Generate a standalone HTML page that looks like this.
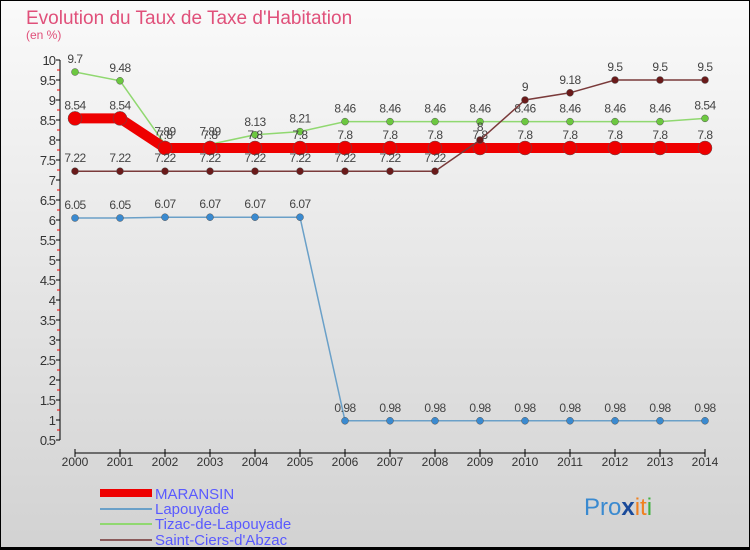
<!DOCTYPE html>
<html><head><meta charset="utf-8"><style>
body{margin:0}
#c{width:750px;height:550px;position:relative;overflow:hidden;background:linear-gradient(#fafafa,#d2d2d2);font-family:"Liberation Sans",sans-serif}
</style></head><body>
<div id="c">
<svg id="s" width="750" height="550" style="position:absolute;left:0;top:0" font-family="Liberation Sans, sans-serif">
<rect x="0.5" y="0.5" width="749" height="547" fill="none" stroke="#000"/>
<rect x="0" y="547" width="750" height="3" fill="#000"/>
<text x="26" y="24" font-size="19" fill="#e0507a">Evolution du Taux de Taxe d'Habitation</text>
<text x="26" y="39" font-size="12" fill="#e0507a">(en %)</text>
<g id="ax"></g><g id="marks"></g>
<g>
<rect x="100" y="489" width="52" height="8" fill="#e00"/>
<line x1="100" y1="509" x2="152" y2="509" stroke="#6aa0c8" stroke-width="2"/>
<line x1="100" y1="524" x2="152" y2="524" stroke="#90d870" stroke-width="2"/>
<line x1="100" y1="540" x2="152" y2="540" stroke="#8a5a5a" stroke-width="2"/>
<g font-size="15" fill="#5a5aff">
<text x="155" y="499">MARANSIN</text>
<text x="155" y="514">Lapouyade</text>
<text x="155" y="529">Tizac-de-Lapouyade</text>
<text x="155" y="545">Saint-Ciers-d'Abzac</text>
</g></g>
<text x="584" y="515" font-size="24"><tspan fill="#3a8ad0">Pro</tspan><tspan fill="#1a4a9a" font-weight="bold">x</tspan><tspan fill="#f08020">it</tspan><tspan fill="#40b040">i</tspan></text>
</svg>
</div>
<script>
const years=[2000,2001,2002,2003,2004,2005,2006,2007,2008,2009,2010,2011,2012,2013,2014];
const maransin=[8.54,8.54,7.8,7.8,7.8,7.8,7.8,7.8,7.8,7.8,7.8,7.8,7.8,7.8,7.8];
const lapouyade=[6.05,6.05,6.07,6.07,6.07,6.07,0.98,0.98,0.98,0.98,0.98,0.98,0.98,0.98,0.98];
const tizac=[9.7,9.48,7.89,7.89,8.13,8.21,8.46,8.46,8.46,8.46,8.46,8.46,8.46,8.46,8.54];
const saintCiers=[7.22,7.22,7.22,7.22,7.22,7.22,7.22,7.22,7.22,8,9,9.18,9.5,9.5,9.5];
const yTicks=[0.5,1,1.5,2,2.5,3,3.5,4,4.5,5,5.5,6,6.5,7,7.5,8,8.5,9,9.5,10];
const X=y=>75+(y-2000)*45, Y=v=>440-(v-0.5)*40;
const NS="http://www.w3.org/2000/svg";
function mk(t,a,p){const e=document.createElementNS(NS,t);for(const k in a)e.setAttribute(k,a[k]);p.appendChild(e);return e;}
const ax=document.getElementById('ax');


mk('line',{x1:60,y1:Y(10),x2:60,y2:Y(0.5),stroke:'#000'},ax);
mk('line',{x1:75,y1:453,x2:705,y2:453,stroke:'#000'},ax);
yTicks.forEach(v=>{mk('line',{x1:56,y1:Y(v),x2:60,y2:Y(v),stroke:'#000'},ax);
 if(v>0.5) mk('line',{x1:57,y1:Y(v)+10,x2:60,y2:Y(v)+10,stroke:'#e00'},ax);
 const t=mk('text',{x:55,y:Y(v)+5,'text-anchor':'end','font-size':13,fill:'#333','letter-spacing':'-1'},ax);t.textContent=String(v);
 
 });
years.forEach(y=>{mk('line',{x1:X(y),y1:449,x2:X(y),y2:457,stroke:'#000'},ax);
 const t=mk('text',{x:X(y),y:466,'text-anchor':'middle','font-size':12,fill:'#333'},ax);t.textContent=y;
 
 });
const m=document.getElementById('marks');
function series(d,col,dot,w,r,name){const g=mk('g',{},m);
 
 
 mk('polyline',{points:d.map((v,i)=>X(years[i])+','+Y(v)).join(' '),fill:'none',stroke:col,'stroke-width':w},g);
 d.forEach((v,i)=>{const c=mk('circle',{cx:X(years[i]),cy:Y(v),r:r,fill:dot,stroke:'#555','stroke-width':0.5},g);
  
  
  const t=mk('text',{x:X(years[i]),y:Y(v)-9,'text-anchor':'middle','font-size':12,fill:'#444','letter-spacing':'-0.5'},g);t.textContent=String(v);
  
  });}
series(lapouyade,'#6aa0c8','#3a8ad0',1.5,3.5,'series-lapouyade');
series(tizac,'#90d870','#6cc840',1.5,3.5,'series-tizac');
series(maransin,'#e00','#e00',10,7,'series-maransin');
series(saintCiers,'#7a3a3a','#6a1a1a',1.5,3.5,'series-saint-ciers');
</script>
</body></html>
